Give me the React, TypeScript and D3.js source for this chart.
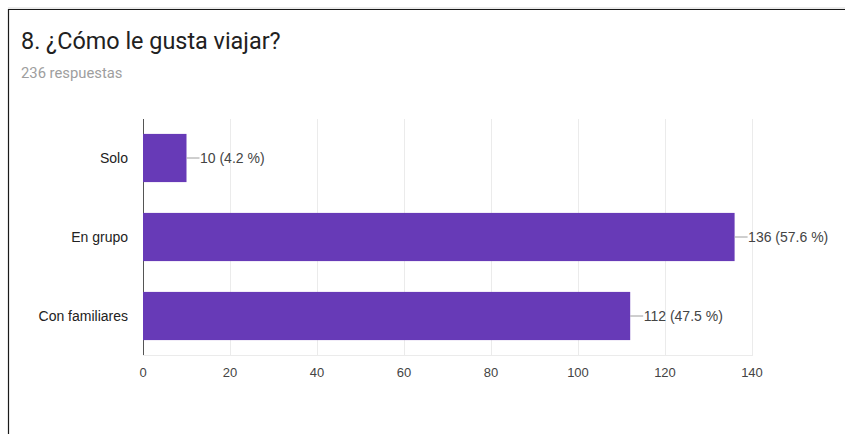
import React from "react";
import * as d3 from "d3";

const title = "8. ¿Cómo le gusta viajar?";
const subtitle = "236 respuestas";
const categories = ["Solo", "En grupo", "Con familiares"];
const values = [10, 136, 112];
const labels = ["10 (4.2 %)", "136 (57.6 %)", "112 (47.5 %)"];
const ticks = [0, 20, 40, 60, 80, 100, 120, 140];

const W = 845;
const H = 434;
const plot = { left: 143, right: 752, top: 118.5, bottom: 355.5 };

export default function App() {
  const x = d3.scaleLinear().domain([0, 140]).range([plot.left, plot.right]);
  const y = d3
    .scaleBand<string>()
    .domain(categories)
    .range([plot.top, plot.bottom])
    .paddingInner(0.39)
    .paddingOuter(0.195);
  const font = "'Liberation Sans', Arial, sans-serif";
  return (
    <div style={{ position: "absolute", left: 0, top: 0 }}>
      <svg width={W} height={H} style={{ display: "block" }}>
        <rect x={0} y={0} width={W} height={H} fill="#fff" />
        <line x1={8} x2={W} y1={8} y2={8} stroke="#d8d8d8" strokeWidth={1} />
        <line x1={8} x2={W} y1={9.5} y2={9.5} stroke="#1a1a1a" strokeWidth={1.2} />
        <line x1={8.5} x2={8.5} y1={9} y2={H} stroke="#1a1a1a" strokeWidth={1.2} />
        <text x={21} y={49} fontFamily="Roboto, sans-serif" fontSize={23.4} fill="#212121">
          {title}
        </text>
        <text x={21} y={78} fontFamily="Roboto, sans-serif" fontSize={14.8} fill="#9e9e9e">
          {subtitle}
        </text>
        {ticks.map((t) => (
          <line
            key={"g" + t}
            x1={x(t)}
            x2={x(t)}
            y1={plot.top}
            y2={plot.bottom}
            stroke={t === 0 ? "#555" : "#ebebeb"}
            strokeWidth={1}
            shapeRendering="crispEdges"
          />
        ))}
        <line
          x1={plot.left}
          x2={plot.right}
          y1={plot.bottom}
          y2={plot.bottom}
          stroke="#ebebeb"
          shapeRendering="crispEdges"
        />
        {categories.map((c, i) => {
          const y0 = y(c)!;
          const bw = y.bandwidth();
          const cy = y0 + bw / 2;
          const xe = x(values[i]);
          return (
            <g key={c}>
              <rect x={x(0)} y={y0} width={xe - x(0)} height={bw} fill="#673ab7" />
              <line x1={xe} x2={xe + 13} y1={cy} y2={cy} stroke="#9e9e9e" strokeWidth={1} />
              <text x={xe + 13.5} y={cy + 5} fontFamily={font} fontSize={14} fill="#444">
                {labels[i]}
              </text>
              <text x={128} y={cy + 5} textAnchor="end" fontFamily={font} fontSize={14} fill="#222">
                {c}
              </text>
            </g>
          );
        })}
        {ticks.map((t) => (
          <text
            key={"t" + t}
            x={x(t)}
            y={377}
            textAnchor="middle"
            fontFamily={font}
            fontSize={13}
            fill="#444"
          >
            {t}
          </text>
        ))}
      </svg>
    </div>
  );
}
